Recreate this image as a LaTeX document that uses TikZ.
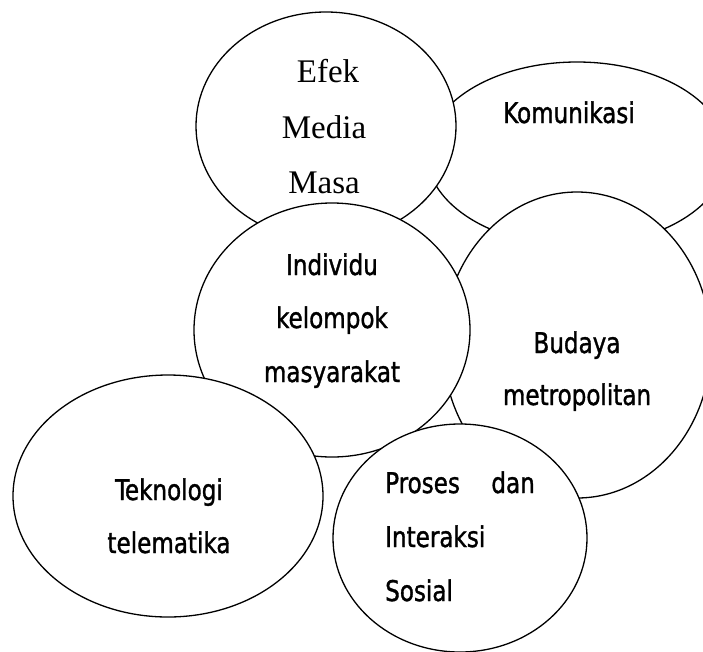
\documentclass[tikz,border=0pt]{standalone}
\usepackage{fontspec}
\setmainfont{Liberation Serif}
\newfontfamily\labsans[FakeStretch=0.9,FakeBold=1.2]{DejaVu Sans Condensed}
\usetikzlibrary{shapes.geometric}
\tikzset{
  ell/.style={ellipse, draw=black, fill=white, line width=1.3pt, inner sep=0pt, outer sep=0pt},
  sertxt/.style={font=\fontsize{33}{35}\selectfont, inner sep=0pt, anchor=base},
  santxt/.style={font=\labsans\fontsize{28.5}{30}\selectfont, inner sep=0pt, anchor=base},
}
\begin{document}
\begin{tikzpicture}[x=1pt,y=-1pt]
\useasboundingbox (0,0) rectangle (703,651);
\clip (0,0) rectangle (703,651);
\fill[white] (0,0) rectangle (703,651);
% ellipses, back to front
\node[ell, minimum width=300pt, minimum height=184pt] (kom) at (577,154) {};
\node[ell, minimum width=260pt, minimum height=228pt] (efek) at (326,126) {};
\node[ell, minimum width=268pt, minimum height=306pt] (bud) at (577,345) {};
\node[ell, minimum width=276pt, minimum height=254pt] (ind) at (332,330) {};
\node[ell, minimum width=310pt, minimum height=242pt] (tek) at (168,496) {};
\node[ell, minimum width=254pt, minimum height=228pt] (pro) at (460,538) {};
% texts
\node[sertxt] (t1) at (328,82) {Efek};
\node[sertxt] (t2) at (324,138) {Media};
\node[sertxt] (t3) at (324,193) {Masa};
\node[santxt] (t4) at (569,123) {Komunikasi};
\node[santxt] (t5) at (332,275) {Individu};
\node[santxt] (t6) at (332,328) {kelompok};
\node[santxt] (t7) at (332,382) {masyarakat};
\node[santxt] (t8) at (577,353) {Budaya};
\node[santxt] (t9) at (577,405) {metropolitan};
\node[santxt] (t10) at (169,500) {Teknologi};
\node[santxt] (t11) at (169,553) {telematika};
\node[santxt, anchor=base west] (t12) at (385,493) {Proses};
\node[santxt, anchor=base east] (t13) at (535,493) {dan};
\node[santxt, anchor=base west] (t14) at (385,547) {Interaksi};
\node[santxt, anchor=base west] (t15) at (385,601) {Sosial};
\end{tikzpicture}
\end{document}
